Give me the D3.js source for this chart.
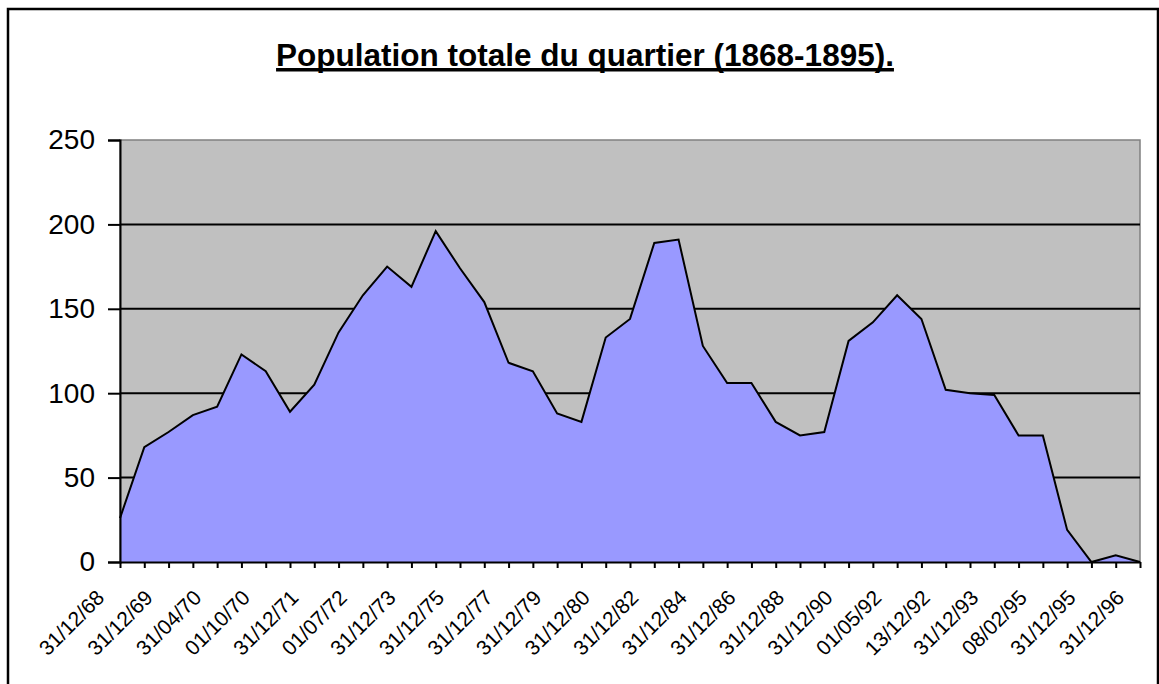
<!DOCTYPE html>
<html>
<head>
	<meta charset="utf-8">
	<title>Population totale du quartier</title>
	<script src="https://d3js.org/d3.v7.min.js" charset="utf-8"></script>
	<style>
		body{margin:0;background:#fff;}
		text{font-family:"Liberation Sans",Arial,sans-serif;}
	</style>
</head>
<body>
	<script>
	var w=1159;
	var h=684;

	// one value per census date (43 points), only every other date is labelled
	var population=[26,68,77,87,92,123,113,89,105,136,158,175,163,196,174,154,118,113,88,83,
		133,144,189,191,128,106,106,83,75,77,131,142,158,144,102,100,99,75,75,19,0,4,0];
	var dateLabels=["31/12/68","31/12/69","31/04/70","01/10/70","31/12/71","01/07/72","31/12/73",
		"31/12/75","31/12/77","31/12/79","31/12/80","31/12/82","31/12/84","31/12/86","31/12/88",
		"31/12/90","01/05/92","13/12/92","31/12/93","08/02/95","31/12/95","31/12/96"];
	var yTicks=[0,50,100,150,200,250];
	var title="Population totale du quartier (1868-1895).";

	var plot={left:120,right:1140,top:140,bottom:562};

	var svg=d3.select("body").append("svg").attr("width",w).attr("height",h);

	// outer chart frame
	svg.append("rect")
		.attr("x",8).attr("y",9).attr("width",1150).attr("height",720)
		.attr("fill","#fff").attr("stroke","#000").attr("stroke-width",2.5);

	var x=d3.scaleLinear().domain([0,population.length-1]).range([plot.left,plot.right]);
	var y=d3.scaleLinear().domain([0,250]).range([plot.bottom,plot.top]);

	// plot background
	svg.append("rect")
		.attr("x",plot.left).attr("y",plot.top)
		.attr("width",plot.right-plot.left).attr("height",plot.bottom-plot.top)
		.attr("fill","#c0c0c0").attr("stroke","#808080").attr("stroke-width",1.5);

	// gridlines
	svg.append("g").selectAll("line")
		.data(yTicks.filter(function(d){return d>0&&d<250;}))
		.enter().append("line")
		.attr("x1",plot.left).attr("x2",plot.right)
		.attr("y1",function(d){return y(d);}).attr("y2",function(d){return y(d);})
		.attr("stroke","#000").attr("stroke-width",2);

	var area=d3.area()
		.x(function(d,i){return x(i);})
		.y0(y(0))
		.y1(function(d){return y(d);});
	var line=d3.line()
		.x(function(d,i){return x(i);})
		.y(function(d){return y(d);});

	svg.append("path").datum(population)
		.attr("d",area).attr("fill","#9999ff");
	svg.append("path").datum(population)
		.attr("d",line).attr("fill","none")
		.attr("stroke","#000").attr("stroke-width",2).attr("stroke-linejoin","miter");

	// y axis
	var yAxis=d3.axisLeft(y).tickValues(yTicks).tickSize(12).tickPadding(13);
	var gy=svg.append("g").attr("transform","translate("+plot.left+",0)").call(yAxis);
	gy.select(".domain").attr("stroke","#000").attr("stroke-width",2);
	gy.selectAll(".tick line").attr("stroke","#000").attr("stroke-width",2);
	gy.selectAll(".tick text")
		.attr("font-size",28).attr("fill","#000")
		.style("font-family","'Liberation Sans',Arial,sans-serif");

	// x axis: a tick at every point, a label at every other one
	var xAxis=d3.axisBottom(x)
		.tickValues(d3.range(population.length))
		.tickSize(6).tickSizeOuter(0)
		.tickFormat(function(i){return i%2===0?dateLabels[i/2]:"";});
	var gx=svg.append("g").attr("transform","translate(0,"+plot.bottom+")").call(xAxis);
	gx.select(".domain").attr("stroke","#000").attr("stroke-width",2);
	gx.selectAll(".tick line").attr("stroke","#000").attr("stroke-width",2);
	gx.selectAll(".tick text")
		.attr("x",0).attr("y",0).attr("dy",0)
		.attr("text-anchor","end")
		.attr("transform","translate(-15,37) rotate(-45)")
		.attr("font-size",21).attr("fill","#000")
		.style("font-family","'Liberation Sans',Arial,sans-serif");

	// title with a thick underline
	var t=svg.append("text")
		.attr("x",585).attr("y",66)
		.attr("text-anchor","middle")
		.attr("font-size",31.5).attr("font-weight","bold")
		.text(title);
	var bb=t.node().getBBox();
	svg.append("rect")
		.attr("x",bb.x).attr("y",68)
		.attr("width",bb.width).attr("height",3.5)
		.attr("fill","#000");
	</script>
</body>
</html>
